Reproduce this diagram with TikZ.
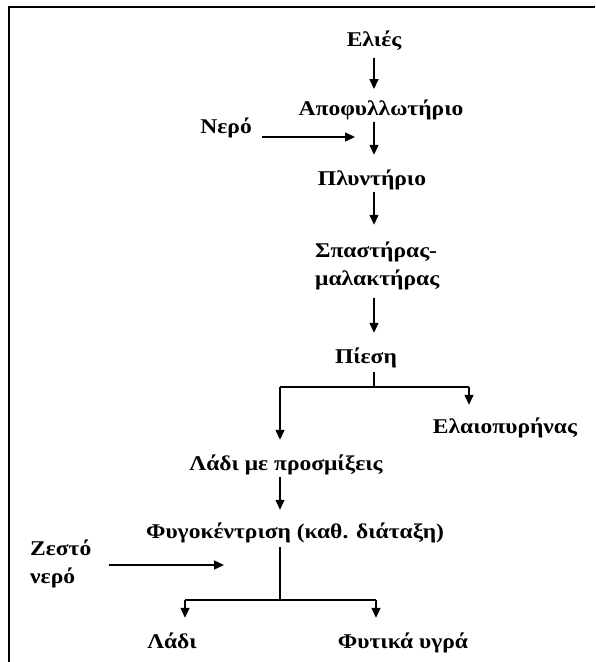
\documentclass[tikz,border=0pt]{standalone}
\usepackage{fontspec}
\setmainfont{Liberation Serif}[FakeStretch=1.12]
\usetikzlibrary{arrows.meta}
\begin{document}
\begin{tikzpicture}[x=1pt,y=-1pt,
  lbl/.style={font=\fontsize{21}{28}\selectfont\bfseries, inner sep=0pt, text height=15pt, text depth=4.5pt},
  lbl2/.style={font=\fontsize{21}{28}\selectfont\bfseries, inner sep=0pt, align=left},
  arr/.style={line width=1.4pt,-{Triangle[length=10pt,width=9pt]}},
  ln/.style={line width=1.4pt},
  br/.style={line width=2.2pt},
  frame/.style={line width=2.6pt}]
\useasboundingbox (0,0) rectangle (595,662);
\draw[frame] (9,662) -- (9,7) -- (595,7);

\node[lbl] (elies) at (374,41) {Ελιές};
\node[lbl] (apof) at (381,110) {Αποφυλλωτήριο};
\node[lbl, anchor=east] (nero) at (252,128) {Νερό};
\coordinate (neroend) at (355,137);
\node[lbl] (plyn) at (372,180) {Πλυντήριο};
\node[lbl2, anchor=west] (spast) at (315,266) {Σπαστήρας-\\μαλακτήρας};
\node[lbl] (piesi) at (366,358) {Πίεση};
\coordinate (pj) at (374,387);
\coordinate (pl) at (280,387);
\coordinate (pr) at (469,387);
\node[lbl] (elaio) at (505,428) {Ελαιοπυρήνας};
\node[lbl] (ladip) at (286,465) {Λάδι με προσμίξεις};
\node[lbl] (fyg) at (295,533) {Φυγοκέντριση (καθ. διάταξη)};
\node[lbl2, anchor=west] (zesto) at (30,564) {Ζεστό\\νερό};
\coordinate (zestoend) at (224,565);
\coordinate (fj) at (280,600);
\coordinate (fl) at (185,600);
\coordinate (fr) at (376,600);
\node[lbl] (ladi) at (172,643) {Λάδι};
\node[lbl] (fyta) at (403,643) {Φυτικά υγρά};

\draw[arr, shorten <=7pt, shorten >=11pt] (elies.south) -- (elies.south |- apof.north);
\draw[arr, shorten <=2.25pt, shorten >=15.25pt] (elies.south |- apof.south) -- (elies.south |- plyn.north);
\draw[arr, shorten <=10pt] (nero.east |- neroend) -- (neroend);
\draw[arr, shorten <=2.25pt, shorten >=17pt] (elies.south |- plyn.south) -- (elies.south |- spast.north);
\draw[arr, shorten <=8pt, shorten >=15.25pt] (elies.south |- spast.south) -- (elies.south |- piesi.north);
\draw[ln, shorten <=4.25pt] (pj |- piesi.south) -- (pj);
\draw[br] (pl) -- (pr);
\draw[arr, shorten >=13.25pt] (pr) -- (pr |- elaio.north);
\draw[arr, shorten >=15.25pt] (pl) -- (pl |- ladip.north);
\draw[arr, shorten <=2.25pt, shorten >=13.25pt] (pl |- ladip.south) -- (pl |- fyg.north);
\draw[arr, shorten <=17pt] (zesto.east |- zestoend) -- (zestoend);
\draw[ln, shorten <=4.25pt] (fj |- fyg.south) -- (fj);
\draw[br] (fl) -- (fr);
\draw[arr, shorten >=15.25pt] (fl) -- (fl |- ladi.north);
\draw[arr, shorten >=15.25pt] (fr) -- (fr |- fyta.north);
\end{tikzpicture}
\end{document}
